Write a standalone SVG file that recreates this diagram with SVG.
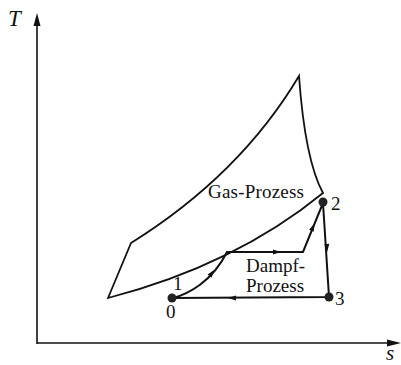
<svg xmlns="http://www.w3.org/2000/svg" width="401" height="365" viewBox="0 0 401 365">
<style>
.ax{stroke:#111;stroke-width:1.6;fill:none}
.gas{stroke:#111;stroke-width:1.8;fill:none;stroke-linejoin:miter}
.st{stroke:#111;stroke-width:2;fill:none}
.lbl{font-family:"Liberation Serif",serif;font-size:19px;fill:#111}
.var{font-family:"Liberation Serif",serif;font-style:italic;fill:#111}
.dot{fill:#222}
</style>
<defs>
<polygon id="ah" points="4,0 -4,-2.5 -4,2.5" fill="#111"/>
</defs>
<g id="axes">
<line class="ax" x1="37" y1="344" x2="37" y2="24"/>
<polygon points="37,13 33.5,26 40.5,26" fill="#111"/>
<line class="ax" x1="37" y1="343" x2="389" y2="343"/>
<polygon points="401,343 387,339.5 387,346.5" fill="#111"/>
<text class="var" x="8" y="26" font-size="23">T</text>
<text class="var" x="386" y="360" font-size="21">s</text>
</g>
<g id="gas-prozess">
<path class="gas" d="M108,298 L131,243 Q240,175 299,76 Q305,160 323,193 Q235,265 108,298 Z"/>
<text class="lbl" x="208" y="198" textLength="96">Gas-Prozess</text>
</g>
<g id="connectors">
<path class="st" d="M173,298 C188,294 212,282 227,252 L303,252 L323,203 L329,297 L172,298"/>
<use href="#ah" transform="translate(212,273) rotate(-52)"/>
<use href="#ah" transform="translate(277,252)"/>
<use href="#ah" transform="translate(313,227) rotate(-67)"/>
<use href="#ah" transform="translate(327,248) rotate(87)"/>
<use href="#ah" transform="translate(232,298) rotate(180)"/>
</g>
<g id="dampf-prozess">
<text class="lbl" x="246" y="272">Dampf-</text>
<text class="lbl" x="246" y="292">Prozess</text>
</g>
<g id="node-0">
<circle class="dot" cx="172" cy="298" r="4.5"/>
<text class="lbl" x="166" y="318">0</text>
</g>
<g id="node-1">
<text class="lbl" x="173" y="290">1</text>
</g>
<g id="node-2">
<circle class="dot" cx="323" cy="202" r="4.5"/>
<text class="lbl" x="331" y="210">2</text>
</g>
<g id="node-3">
<circle class="dot" cx="329" cy="297" r="4.5"/>
<text class="lbl" x="335" y="305">3</text>
</g>
</svg>
